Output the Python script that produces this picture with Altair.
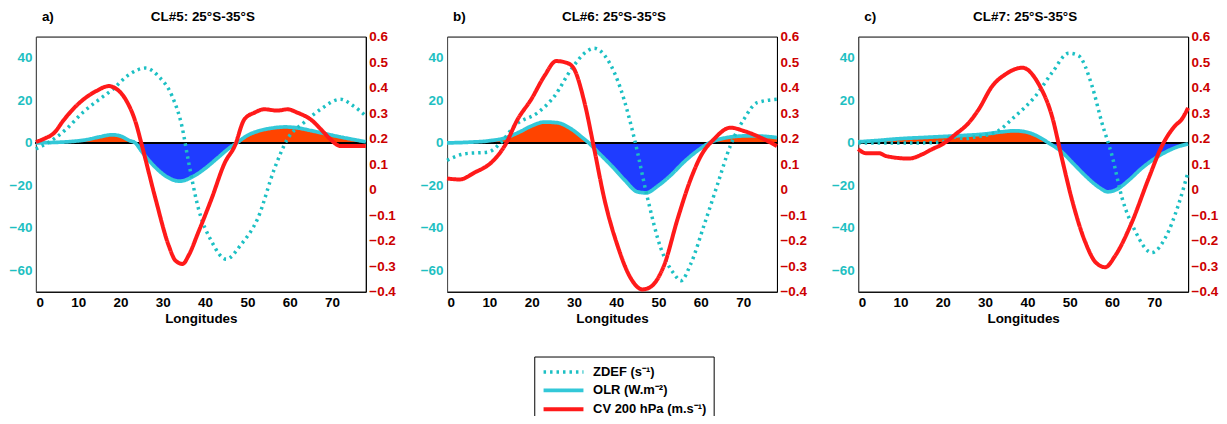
import altair as alt
import pandas as pd
import numpy as np

# ---------------- data ----------------
panel_tags = ["a)", "b)", "c)"]
panel_titles = ["CL#5: 25°S-35°S", "CL#6: 25°S-35°S", "CL#7: 25°S-35°S"]

series_names = ["ZDEF (s⁻¹)", "OLR (W.m⁻²)", "CV 200 hPa (m.s⁻¹)"]
series_colors = ["#1cc0c4", "#33c8d8", "#ff1a1a"]

# Panel a (CL#5)
a_cv_lon = [0, 2, 4.4, 6.4, 9.5, 14.2, 17.3, 18.5, 21.2, 23.6, 25.1, 28.3, 31.4, 33, 34.7, 36.1, 38.4, 41.5, 44.7, 47, 49.3, 51.7, 54, 57.1, 59.5, 61.8, 64.9, 68.1, 69.6, 72, 78]
a_cv = [0.187, 0.2, 0.224, 0.269, 0.328, 0.386, 0.406, 0.40, 0.354, 0.263, 0.171, -0.037, -0.219, -0.278, -0.291, -0.258, -0.167, -0.037, 0.107, 0.171, 0.276, 0.302, 0.315, 0.31, 0.315, 0.302, 0.276, 0.224, 0.198, 0.171, 0.171]
a_zd_lon = [0, 3.3, 7.2, 11.1, 15, 18.1, 22, 25.9, 29, 32.2, 34.5, 36.1, 38.4, 41.5, 45, 48.5, 52.5, 56.4, 59.5, 63.4, 67.3, 72, 75.1, 78]
a_zd = [-2.8, 0.6, 6.5, 14.3, 20.5, 25.1, 32.1, 35.2, 31.3, 22, 8, -9, -30.7, -46.2, -54.7, -47.8, -35.3, -12.1, 1.9, 9.6, 15.8, 20.5, 17.3, 12.7]
a_olr_lon = [0, 4, 8, 12, 15, 18, 20, 22, 23.5, 25, 28, 31, 34, 37, 40, 43, 46, 47.5, 50, 53, 56, 59, 62, 65, 68, 71, 74, 78]
a_olr = [0, 0.2, 0.6, 1.5, 2.8, 3.8, 3.2, 1.2, 0, -4, -11, -16, -18, -16, -12, -7, -2, 0, 3.5, 5.8, 7, 7.5, 7, 5.8, 4.5, 3.2, 2, 0.5]

# Panel b (CL#6)
b_cv_lon = [0, 3, 6.5, 10.5, 13.6, 16.7, 19.9, 23, 25.8, 28.5, 30.1, 32.5, 34.8, 37.2, 40.3, 43.5, 46.2, 48.2, 51.3, 54.5, 57.6, 60, 63.1, 67, 70.2, 74.9, 78]
b_cv = [0.044, 0.04, 0.067, 0.107, 0.171, 0.276, 0.354, 0.445, 0.504, 0.496, 0.471, 0.341, 0.159, -0.037, -0.219, -0.349, -0.391, -0.38, -0.297, -0.115, 0.041, 0.132, 0.198, 0.243, 0.23, 0.198, 0.171]
b_zd_lon = [0, 4.2, 9.7, 12.8, 16, 21.5, 25.4, 29.3, 32.5, 34.8, 38, 41.1, 44.3, 47.4, 50.5, 53.7, 55.3, 57.6, 60.8, 63.9, 67, 70.2, 73.3, 78]
b_zd = [-8.2, -5.1, -4.3, 0.3, 8.1, 14.3, 22, 34.4, 42.2, 44.5, 39, 25.1, 1.9, -26, -49.3, -61.7, -64.8, -57, -38.5, -19.8, -1.2, 11.2, 18.9, 20.5]
b_olr_lon = [0, 5, 10, 14, 17, 20, 23, 26, 29, 32, 33.5, 36, 39, 42, 45, 47, 50, 53, 56, 59, 62, 65, 68, 71, 74, 78]
b_olr = [0, 0.3, 1, 2.5, 5, 8, 9.8, 9.5, 7, 2.5, 0, -5, -11, -17.5, -23, -23.5, -20, -15, -9, -4, 0, 2, 3, 3.3, 3.2, 2.5]

# Panel c (CL#7)
c_cv_lon = [0, 1.8, 5, 6.5, 12, 15.2, 17.5, 19.9, 23, 26.2, 28.5, 31.7, 34.8, 38.8, 42.7, 45.8, 48.2, 50.5, 53.7, 56.1, 58.4, 60.8, 64.7, 68.6, 71.8, 74.9, 76.5, 78]
c_cv = [0.159, 0.143, 0.143, 0.132, 0.122, 0.139, 0.159, 0.178, 0.217, 0.263, 0.315, 0.406, 0.452, 0.478, 0.413, 0.289, 0.12, -0.037, -0.206, -0.284, -0.304, -0.258, -0.128, 0.041, 0.171, 0.25, 0.276, 0.321]
c_zd_lon = [0, 5, 10, 15, 20, 22, 25, 28, 32.5, 37.2, 41.9, 45.8, 49.8, 52.1, 55.3, 57.6, 60, 62.4, 65.5, 69.4, 72.6, 75.7, 78]
c_zd = [0, 0, 0, 0, 0.5, 3, 2, 2.9, 5, 12.7, 22, 32.9, 42.2, 41, 26.7, 9.6, -5.9, -26, -41.5, -51.6, -44.7, -29.2, -13.6]
c_olr_lon = [0, 5, 10, 15, 20, 25, 30, 34, 37, 40, 43, 45, 48, 51, 54, 57, 59, 61, 64, 67, 70, 73, 76, 78]
c_olr = [0.5, 1.2, 2, 2.5, 3, 3.5, 4.2, 5.2, 5.7, 5, 2.5, 0, -4, -10, -16, -21, -23, -22, -17.5, -12, -7.5, -4, -1.5, -0.5]

left_ticks = [-60, -40, -20, 0, 20, 40]
right_ticks = [-0.4, -0.3, -0.2, -0.1, 0, 0.1, 0.2, 0.3, 0.4, 0.5, 0.6]
x_ticks = [0, 10, 20, 30, 40, 50, 60, 70]

panels = [
    (a_cv_lon, a_cv, a_zd_lon, a_zd, a_olr_lon, a_olr),
    (b_cv_lon, b_cv, b_zd_lon, b_zd, b_olr_lon, b_olr),
    (c_cv_lon, c_cv, c_zd_lon, c_zd, c_olr_lon, c_olr),
]

FONT = "Liberation Sans"
W, H = 331, 256
CYAN_LBL = "#1ebfc2"
RED_LBL = "#cc0000"

color_scale = alt.Scale(domain=series_names, range=series_colors)
dash_scale = alt.Scale(domain=series_names, range=[[2.5, 4], [1, 0], [1, 0]])
width_scale = alt.Scale(domain=series_names, range=[3.5, 4, 3])

# long horizontal line symbol: path in [-1,1] units scaled by sqrt(size)/2
legend = alt.Legend(orient="none", legendX=500, legendY=321, title=None,
                    strokeColor="#000", padding=7, fillColor="#fff",
                    symbolType="M-1,0H5", symbolSize=178, symbolStrokeWidth=3.5,
                    labelFont=FONT, labelFontSize=13, labelFontWeight="bold",
                    labelColor="#000", labelAlign="left", rowPadding=2,
                    symbolOffset=0, labelOffset=34)

x_enc = alt.X("lon:Q", scale=alt.Scale(domain=[0, 78], nice=False, zero=False),
              axis=alt.Axis(values=x_ticks, title="Longitudes", grid=False, ticks=False,
                            labelPadding=4, domainColor="#000", titlePadding=2))
yl_scale = alt.Scale(domain=[-70, 50], nice=False, zero=False)
yr_scale = alt.Scale(domain=[-0.4, 0.6], nice=False, zero=False)

def series_enc():
    return dict(
        color=alt.Color("series:N", scale=color_scale, legend=legend),
        strokeDash=alt.StrokeDash("series:N", scale=dash_scale, legend=legend),
        strokeWidth=alt.StrokeWidth("series:N", scale=width_scale, legend=None))

def make_panel(i):
    cvx, cv, zdx, zd, olx, ol = panels[i]
    df_cv = pd.DataFrame({"lon": cvx, "v": cv, "series": series_names[2]})
    df_zd = pd.DataFrame({"lon": zdx, "v": zd, "series": series_names[0]})
    df_ol = pd.DataFrame({"lon": olx, "v": ol, "series": series_names[1]})
    df_ol["pos"] = np.maximum(df_ol["v"], 0)
    df_ol["neg"] = np.minimum(df_ol["v"], 0)

    y_left = alt.Y("v:Q", scale=yl_scale,
                   axis=alt.Axis(values=left_ticks, orient="left", title=None, grid=False,
                                 ticks=False, labelColor=CYAN_LBL, labelPadding=4,
                                 domainColor="#555"))
    base_ol = alt.Chart(df_ol)
    area_pos = base_ol.mark_area(color="#ff4400", interpolate="monotone").encode(
        x=x_enc, y=alt.Y("pos:Q", scale=yl_scale), y2=alt.datum(0))
    area_neg = base_ol.mark_area(color="#1f3cff", interpolate="monotone").encode(
        x=x_enc, y=alt.Y("neg:Q", scale=yl_scale), y2=alt.datum(0))
    zero = alt.Chart(df_ol).mark_rule(color="#000", strokeWidth=1.5).encode(
        y=alt.datum(0))
    ol_line = base_ol.mark_line(interpolate="monotone", strokeCap="butt").encode(
        x=x_enc, y=y_left, **series_enc())
    zd_line = alt.Chart(df_zd).mark_line(interpolate="monotone", strokeCap="butt").encode(
        x=x_enc, y=y_left, **series_enc())
    tag = alt.Chart(pd.DataFrame({"t": [panel_tags[i]]})).mark_text(
        align="left", baseline="middle", font=FONT, fontWeight="bold", fontSize=13.5,
        color="#000").encode(text="t:N", x=alt.value(6), y=alt.value(-20))
    ttl = alt.Chart(pd.DataFrame({"t": [panel_titles[i]]})).mark_text(
        align="center", baseline="middle", font=FONT, fontWeight="bold", fontSize=13.5,
        color="#000").encode(text="t:N", x=alt.value(W / 2 + 2), y=alt.value(-20))

    left = alt.layer(area_pos, area_neg, zero, ol_line, zd_line, tag, ttl)

    cv_line = alt.Chart(df_cv).mark_line(interpolate="monotone").encode(
        x=x_enc,
        y=alt.Y("v:Q", scale=yr_scale,
                axis=alt.Axis(values=right_ticks, orient="right", title=None, grid=False,
                              ticks=False, labelColor=RED_LBL, labelPadding=3,
                              format=".1~f", domainColor="#000")),
        **series_enc())

    return alt.layer(left, cv_line).resolve_scale(y="independent").properties(
        width=W, height=H)

chart = alt.hconcat(make_panel(0), make_panel(1), make_panel(2), spacing=22.5).resolve_scale(
    color="shared", strokeDash="shared", strokeWidth="shared"
).properties(
    padding={"left": 0, "top": 0, "right": 0, "bottom": -10}
).configure_view(stroke="#000", strokeWidth=1).configure_axis(
    labelFont=FONT, labelFontSize=13.5, labelFontWeight="bold",
    titleFont=FONT, titleFontSize=13.5, titleFontWeight="bold", titleColor="#000",
    labelColor="#000"
)

chart.save("out.html", embed_options={"renderer": "svg", "actions": False})
